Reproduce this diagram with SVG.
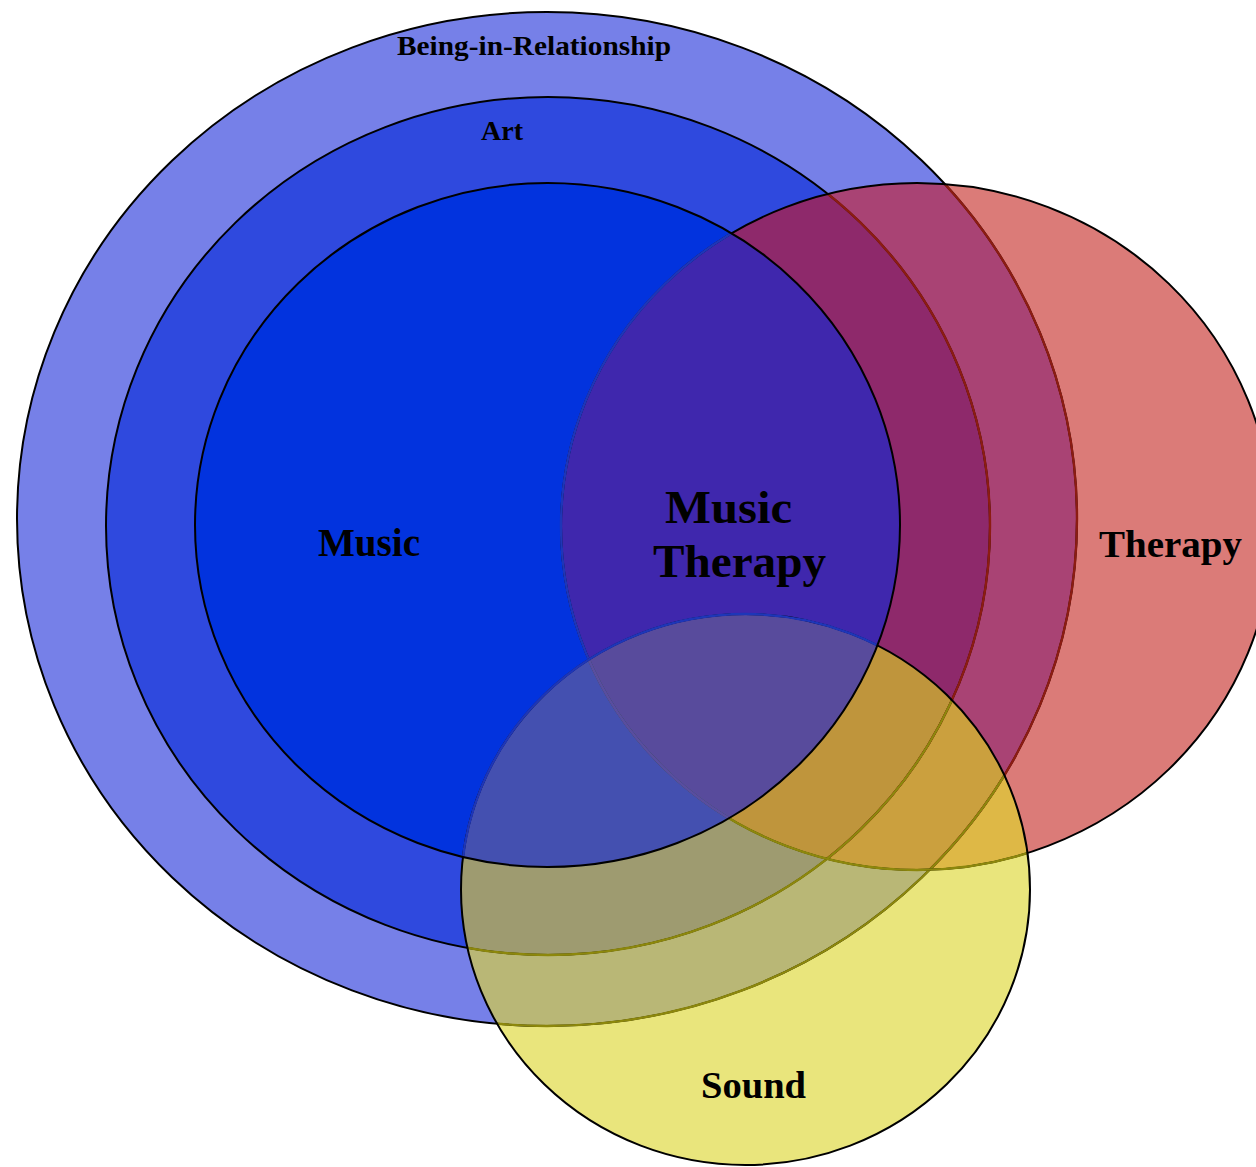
<svg xmlns="http://www.w3.org/2000/svg" width="1256" height="1167" viewBox="0 0 1256 1167">
<style>
.lbl{font-family:"Liberation Serif","Times New Roman",serif;font-weight:bold;fill:#000;text-anchor:middle}
.ln{fill:none;stroke:#000;stroke-width:2}
.lnR{fill:none;stroke:#8C1C12;stroke-width:2.4}
.lnY{fill:none;stroke:#8C870C;stroke-width:2.4}
.lnB{fill:none;stroke:#1E36B8;stroke-width:2.4}
.lnP{fill:none;stroke:#5A4E9E;stroke-width:2.4}
</style>
<defs>
<clipPath id="cO"><ellipse cx="547" cy="519" rx="530" ry="507"/></clipPath>
<clipPath id="cA"><ellipse cx="548" cy="526" rx="442" ry="429"/></clipPath>
<clipPath id="cM"><ellipse cx="547.5" cy="525" rx="352.5" ry="342"/></clipPath>
<clipPath id="cT"><ellipse cx="917" cy="526.5" rx="356" ry="343.5"/></clipPath>
<clipPath id="cS"><ellipse cx="745.5" cy="889.5" rx="284.5" ry="275.5"/></clipPath>
</defs>
<rect width="1256" height="1167" fill="#fff"/>
<g id="being-in-relationship">
<ellipse cx="547" cy="519" rx="530" ry="507" fill="#7680E8"/>
</g>
<g id="art">
<ellipse cx="548" cy="526" rx="442" ry="429" fill="#2F49DE"/>
</g>
<g id="music">
<ellipse cx="547.5" cy="525" rx="352.5" ry="342" fill="#0233DE"/>
</g>
<g id="therapy">
<ellipse cx="917" cy="526.5" rx="356" ry="343.5" fill="#DB7B78"/>
<ellipse cx="917" cy="526.5" rx="356" ry="343.5" fill="#A94374" clip-path="url(#cO)"/>
<ellipse cx="917" cy="526.5" rx="356" ry="343.5" fill="#8E296B" clip-path="url(#cA)"/>
<ellipse cx="917" cy="526.5" rx="356" ry="343.5" fill="#3F27AD" clip-path="url(#cM)"/>
</g>
<g id="sound">
<ellipse cx="745.5" cy="889.5" rx="284.5" ry="275.5" fill="#E9E57C"/>
<ellipse cx="745.5" cy="889.5" rx="284.5" ry="275.5" fill="#B9B776" clip-path="url(#cO)"/>
<ellipse cx="745.5" cy="889.5" rx="284.5" ry="275.5" fill="#9E9B70" clip-path="url(#cA)"/>
<g clip-path="url(#cT)">
<ellipse cx="745.5" cy="889.5" rx="284.5" ry="275.5" fill="#DEB846"/>
<ellipse cx="745.5" cy="889.5" rx="284.5" ry="275.5" fill="#CBA03E" clip-path="url(#cO)"/>
<ellipse cx="745.5" cy="889.5" rx="284.5" ry="275.5" fill="#BF953C" clip-path="url(#cA)"/>
</g>
<ellipse cx="745.5" cy="889.5" rx="284.5" ry="275.5" fill="#4450B0" clip-path="url(#cM)"/>
<g clip-path="url(#cT)">
<ellipse cx="745.5" cy="889.5" rx="284.5" ry="275.5" fill="#584B9C" clip-path="url(#cM)"/>
</g>
</g>
<g id="outlines">
<ellipse class="ln" cx="547" cy="519" rx="530" ry="507"/>
<ellipse class="lnR" cx="547" cy="519" rx="530" ry="507" clip-path="url(#cT)"/>
<ellipse class="lnY" cx="547" cy="519" rx="530" ry="507" clip-path="url(#cS)"/>
<ellipse class="ln" cx="548" cy="526" rx="442" ry="429"/>
<ellipse class="lnR" cx="548" cy="526" rx="442" ry="429" clip-path="url(#cT)"/>
<ellipse class="lnY" cx="548" cy="526" rx="442" ry="429" clip-path="url(#cS)"/>
<ellipse class="ln" cx="917" cy="526.5" rx="356" ry="343.5"/>
<ellipse class="lnY" cx="917" cy="526.5" rx="356" ry="343.5" clip-path="url(#cS)"/>
<ellipse class="lnB" cx="917" cy="526.5" rx="356" ry="343.5" clip-path="url(#cM)"/>
<g clip-path="url(#cS)"><ellipse class="lnP" cx="917" cy="526.5" rx="356" ry="343.5" clip-path="url(#cM)"/></g>
<ellipse class="ln" cx="745.5" cy="889.5" rx="284.5" ry="275.5"/>
<ellipse class="lnB" cx="745.5" cy="889.5" rx="284.5" ry="275.5" clip-path="url(#cM)"/>
<ellipse class="ln" cx="547.5" cy="525" rx="352.5" ry="342" stroke-width="2.2"/>
</g>
<g id="labels">
<text class="lbl" x="534" y="55" font-size="28" textLength="274" lengthAdjust="spacingAndGlyphs">Being-in-Relationship</text>
<text class="lbl" x="502" y="140" font-size="28" textLength="42" lengthAdjust="spacingAndGlyphs">Art</text>
<text class="lbl" x="369" y="556" font-size="39" textLength="102" lengthAdjust="spacingAndGlyphs">Music</text>
<text class="lbl" x="728.5" y="523" font-size="47" textLength="127" lengthAdjust="spacingAndGlyphs">Music</text>
<text class="lbl" x="739.5" y="577" font-size="47" textLength="173" lengthAdjust="spacingAndGlyphs">Therapy</text>
<text class="lbl" x="1170.5" y="557" font-size="38" textLength="143" lengthAdjust="spacingAndGlyphs">Therapy</text>
<text class="lbl" x="753.5" y="1098" font-size="37" textLength="105" lengthAdjust="spacingAndGlyphs">Sound</text>
</g>
</svg>
